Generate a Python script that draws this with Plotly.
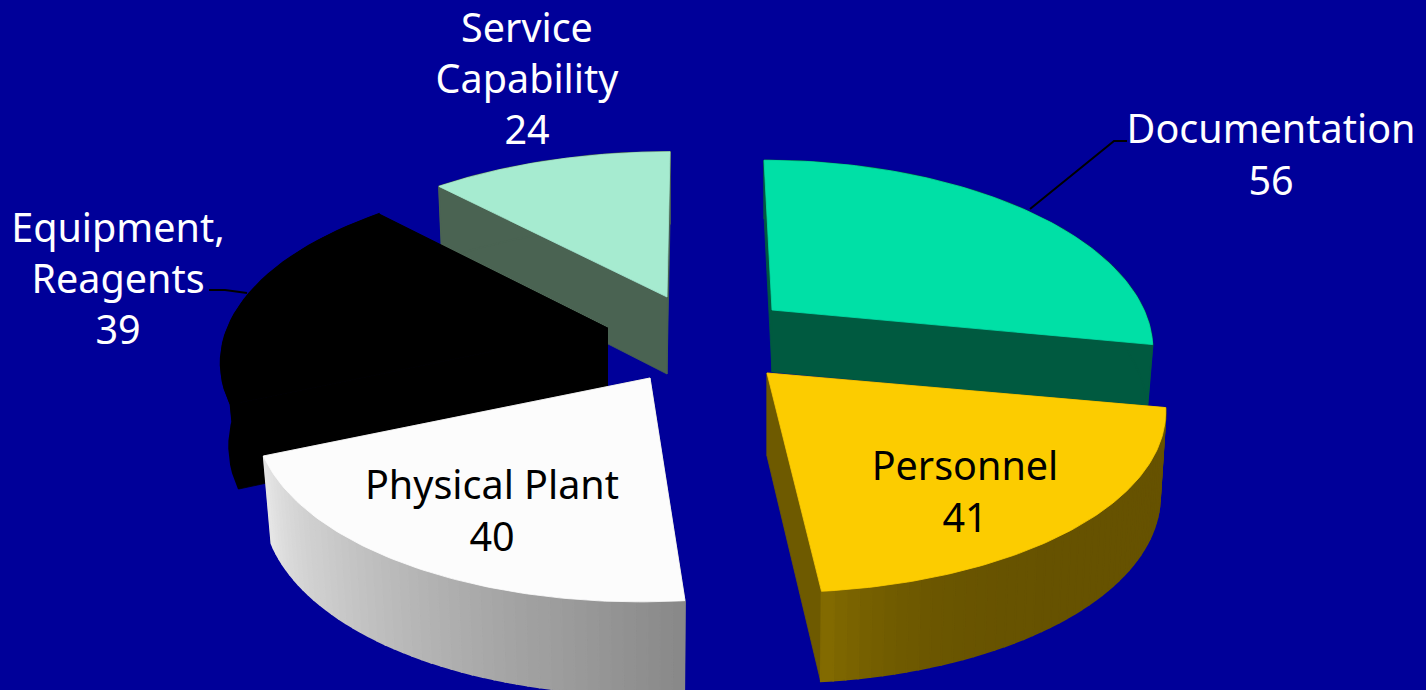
import math
import plotly.graph_objects as go

# ---- data ----
categories = ["Documentation", "Personnel", "Physical Plant", "Equipment,<br>Reagents", "Service<br>Capability"]
values = [56, 41, 40, 39, 24]

# ---- look ----
top_colors = ["#00E0A6", "#FCCC00", "#FCFCFC", "#000000", "#A6EBD0"]
side_from = ["#005A40", "#665200", "#E6E6E6", "#000000", "#4A6352"]
side_to = ["#005A40", "#846C00", "#888888", "#000000", "#4A6352"]
cut_colors = ["#005A40", "#6E5A00", "#888888", "#000000", "#4A6352"]
label_colors = ["white", "black", "black", "white", "white"]
BACKGROUND = "#000099"
FONT = "Noto Sans"
FONT_SIZE = 39.5

# ---- 3D projection of the exploded pie ----
K = 0.189
S = 178
apex = [(772, 310), (767, 373), (650, 378), (607.5, 328), (667, 297)]
radius = [372, 390, 386, 380, 383]
depth = [62, 83, 85, 82, 77]
lean = [50, 40, -42, 0, -19]
y_scale = [1.0, 1.0, 1.02, 1.0, 0.97]
bottom_scale = [0.986, 0.986, 0.98, 0.978, 0.986]
label_pos = [(1271, 159), (965, 496), (492, 515), (118, 283), (527, 83)]
draw_order = [4, 3, 0, 1, 2]


def project(i, a, r=1.0, bottom=False):
    ax, ay = apex[i]
    s, c = math.sin(a), math.cos(a)
    w = 1 + K * c * r
    x = ax - lean[i] * (1 - 1 / w) + radius[i] * r * s / w
    y = ay - S * y_scale[i] * r * c / w
    if bottom:
        y += depth[i] / w ** 0.4
        x = ax + (x - ax) * bottom_scale[i]
    return x, y


def hex2rgb(h):
    return [int(h[j:j + 2], 16) for j in (1, 3, 5)]


def mix(a, b, t):
    ca, cb = hex2rgb(a), hex2rgb(b)
    return "rgb(%d,%d,%d)" % tuple(round(p + (q - p) * t) for p, q in zip(ca, cb))


fig = go.Figure()


def poly(pts, color, lw=0.8):
    fig.add_trace(go.Scatter(
        x=[p[0] for p in pts] + [pts[0][0]],
        y=[p[1] for p in pts] + [pts[0][1]],
        mode="lines", fill="toself", fillcolor=color,
        line=dict(color=color, width=lw),
        hoverinfo="skip", showlegend=False))


total = sum(values)
spans = []
acc = 0
for v in values:
    spans.append((acc / total * 2 * math.pi, (acc + v) / total * 2 * math.pi))
    acc += v

for i in draw_order:
    a0, a1 = spans[i]
    # the two cut faces
    for a in (a0, a1):
        poly([project(i, 0, 0), project(i, a), project(i, a, bottom=True), project(i, 0, 0, bottom=True)],
             cut_colors[i])
    # outer band, split into strips for its gradient
    n = 48 if side_from[i] != side_to[i] else 1
    steps = 30 if n == 1 else 2
    for k in range(n):
        b0 = a0 + (a1 - a0) * k / n
        b1 = a0 + (a1 - a0) * (k + 1) / n
        arc = [b0 + (b1 - b0) * j / steps for j in range(steps + 1)]
        t = (k + 0.5) / n
        if i == 1:
            col = mix(side_from[i], side_to[i], t ** 8)
        elif i == 2:
            col = mix(side_to[i], side_from[i], t)
        else:
            col = side_from[i]
        poly([project(i, b) for b in arc] + [project(i, b, bottom=True) for b in reversed(arc)], col, 1.6)
    # top face
    arc = [a0 + (a1 - a0) * j / 90 for j in range(91)]
    poly([project(i, 0, 0)] + [project(i, b) for b in arc], top_colors[i])

# leader lines
for xs, ys in [([1030, 1114, 1127], [209, 141, 141]), ([209, 225, 247], [290, 290, 293])]:
    fig.add_trace(go.Scatter(x=xs, y=ys, mode="lines", line=dict(color="black", width=2),
                             hoverinfo="skip", showlegend=False))

# labels
for i, name in enumerate(categories):
    fig.add_trace(go.Scatter(
        x=[label_pos[i][0]], y=[label_pos[i][1]], mode="text",
        text=[f"{name}<br>{values[i]}"], textposition="middle center",
        textfont=dict(family=FONT, size=FONT_SIZE, color=label_colors[i]),
        hoverinfo="skip", showlegend=False, cliponaxis=False))

fig.update_layout(
    width=1426, height=690, margin=dict(l=0, r=0, t=0, b=0),
    paper_bgcolor=BACKGROUND, plot_bgcolor=BACKGROUND,
    xaxis=dict(range=[0, 1426], visible=False, fixedrange=True),
    yaxis=dict(range=[690, 0], visible=False, fixedrange=True),
)
fig.write_html(
    "out.html",
    config={"displayModeBar": False},
    post_script="document.body.style.margin='0';document.body.style.overflow='hidden';"
                "document.body.style.background='#000099';",
)
